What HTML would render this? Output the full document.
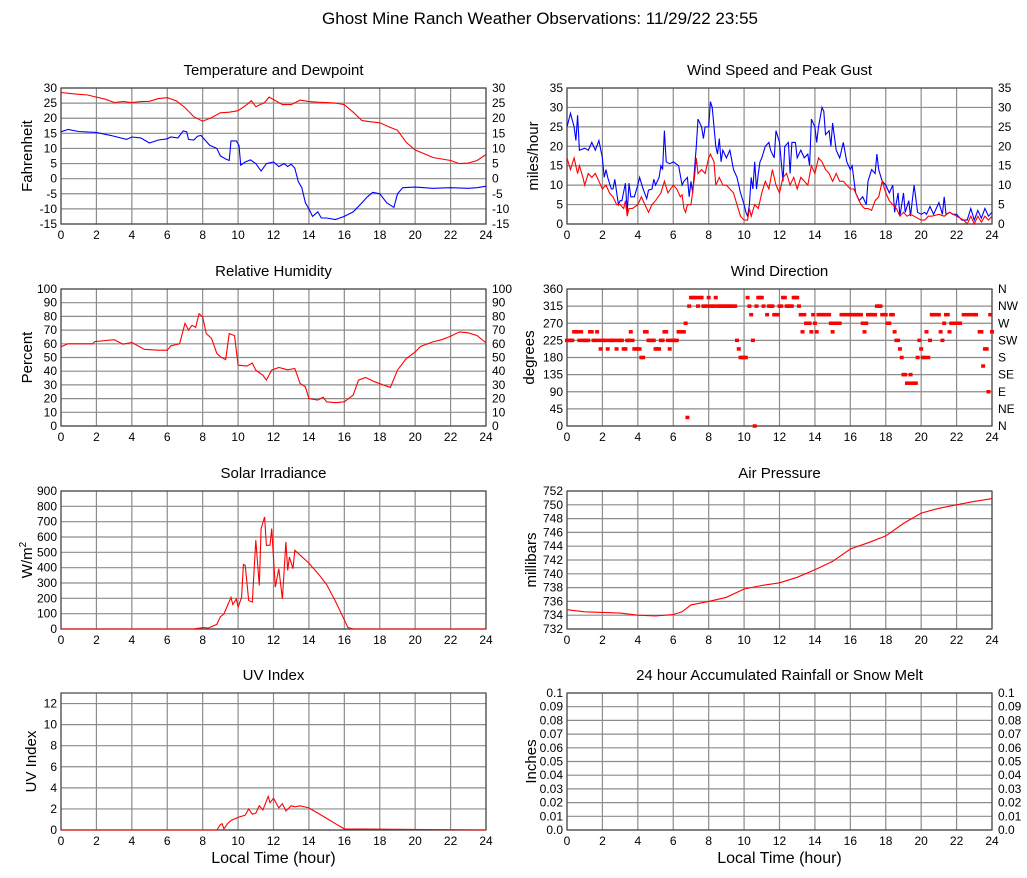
<!DOCTYPE html>
<html><head><meta charset="utf-8"><style>
body{margin:0;background:#fff;}
svg{display:block;font-family:"Liberation Sans",sans-serif;}
</style></head><body>
<svg id="c" width="1027" height="878" xmlns="http://www.w3.org/2000/svg">
<text x="540" y="24" font-size="17" text-anchor="middle">Ghost Mine Ranch Weather Observations: 11/29/22 23:55</text>
</svg>
<script>
const tempT=[0,0.5,1,1.5,2,2.5,3,3.5,4,4.5,5,5.5,6,6.5,7,7.5,8,8.5,9,9.5,10,10.5,10.75,11,11.5,11.75,12,12.5,13,13.5,14,14.5,15,15.5,16,16.5,17,17.5,18,18.5,19,19.5,20,20.5,21,21.5,22,22.5,23,23.5,24];
const tempV=[28.5,28.2,27.9,27.7,27,26.3,25.2,25.5,25.2,25.5,25.6,26.5,26.8,25.8,23.5,20.5,19,20.2,21.8,22,22.5,24.5,25.8,23.8,25.2,27,26.2,24.5,24.5,26,25.5,25.3,25.2,25,24.5,22,19.2,18.8,18.5,17.2,16,12,9.5,8.3,7,6.5,6,5,5.2,6,8];
const dewT=[0,0.4,1,2,2.8,3.7,4,4.5,5,5.5,6,6.2,6.6,6.9,7.1,7.2,7.5,7.7,7.9,8.1,8.4,8.8,9,9.3,9.5,9.6,9.9,10.05,10.15,10.4,10.7,11,11.3,11.6,12,12.3,12.6,12.8,13,13.2,13.4,13.6,13.8,14,14.2,14.5,14.7,15,15.5,16,16.5,17,17.3,17.6,18,18.4,18.8,19,19.3,20,21,22,23,23.5,24];
const dewV=[15.5,16.3,15.6,15.3,14.3,13,13.8,13.5,11.8,12.8,13.2,13.8,13.5,15.8,15.5,13,12.8,14,14.3,13,11,10,7.5,6.5,6,12.5,12.5,11,4.5,5.5,6.2,5,2.5,5,5.5,4,5,4,4.8,3.5,-1,-3,-8,-10,-12.5,-11,-13,-13,-13.5,-12.5,-11,-8,-6,-4.5,-5,-8,-9.5,-5,-3,-2.8,-3.2,-3,-3.2,-3,-2.5];
const rhT=[0,0.4,1.8,1.9,3,3.5,4,4.7,5.5,6,6.2,6.7,7,7.2,7.4,7.6,7.8,8,8.2,8.5,8.8,9,9.3,9.5,9.8,10,10.5,10.8,11,11.4,11.6,11.9,12.3,12.8,13.2,13.5,13.8,14,14.5,14.8,15,15.5,16,16.5,16.8,17.2,17.7,18.2,18.6,19,19.5,20,20.3,21,21.5,22,22.5,23,23.5,24];
const rhV=[57.8,60,60,61.6,63,59.7,61,56,55.3,55.3,58.5,60,75,70,73.5,72,82,79.6,67.5,64,53,50.5,48.5,67.5,66,44.4,43.7,46,40.8,37,33.5,40.8,42.7,41,42,31,28.6,20,19,21,17.7,17,17.7,22.6,33.5,35.4,32.3,29.9,28.2,40.8,49.3,54,58,61.4,63,65.5,68.7,68,66,60.7];
const gustT=[0,0.2,0.4,0.5,0.6,0.7,1,1.2,1.4,1.6,1.8,2,2.1,2.2,2.3,2.5,2.6,2.7,2.9,3,3.1,3.3,3.4,3.5,3.6,3.8,4,4.1,4.3,4.5,4.6,4.8,4.9,5,5.2,5.3,5.4,5.5,5.6,5.8,6,6.3,6.5,6.6,6.8,6.9,7,7.1,7.2,7.3,7.4,7.6,7.7,7.8,8,8.1,8.2,8.4,8.5,8.6,8.7,8.8,9,9.2,9.4,9.6,9.8,10,10.1,10.2,10.3,10.4,10.5,10.6,10.7,10.8,10.9,11,11.2,11.4,11.5,11.7,11.8,12,12.2,12.3,12.5,12.6,12.7,12.9,13,13.2,13.4,13.6,13.7,13.8,14,14.1,14.2,14.4,14.5,14.6,14.8,14.9,15,15.2,15.4,15.6,15.8,16,16.1,16.3,16.5,16.7,16.9,17,17.2,17.4,17.5,17.6,17.8,18,18.2,18.4,18.5,18.7,18.8,19,19.1,19.3,19.4,19.6,19.8,20,20.2,20.3,20.5,20.7,21,21.2,21.3,21.4,21.6,21.8,22,22.3,22.6,22.8,23,23.2,23.4,23.6,23.8,24];
const gustV=[25,28.5,25,21.5,28,19,19.5,19,21,19,21.5,17,12,14,12,9,9,11.5,5,6,6,10.5,3,10.5,7,7,10,12,9,6.5,8.7,9,11.5,10,12,15,14,24,16,15.5,16,15,10,11,12,7,11,8,14,20,27,25,22,25,25,31.5,30,20,18,22,16,19,17,19,14,12,8,5,3,2,5,12,9,16,9,13,16,17,20,21,19,17,24,21,11,20,21,13,21,21,17,19,17,18,15,27,25,21,25,30,29,23,24,20,26,19,17,21,16,14,15,8,6,7,5,11,14,13,18,14,11,10,8,10,3,8,2,8,3,6,2,10,3,2.5,3,2.5,4.5,2.5,5.5,2.5,7,2.5,3,2.5,2.5,1,1,4,1,3.5,1.5,4,2,3];
const spdT=[0,0.2,0.4,0.6,0.7,0.9,1,1.2,1.4,1.6,1.8,2,2.2,2.4,2.6,2.8,3,3.2,3.3,3.4,3.5,3.7,4,4.2,4.4,4.6,4.8,5,5.3,5.5,5.7,6,6.2,6.4,6.5,6.6,6.7,6.8,7,7.2,7.3,7.4,7.6,7.8,8,8.1,8.3,8.4,8.6,8.8,9,9.2,9.4,9.6,9.8,10,10.2,10.3,10.4,10.6,10.8,11,11.2,11.4,11.6,11.8,12,12.2,12.4,12.6,12.8,13,13.2,13.4,13.6,13.8,14,14.2,14.4,14.6,14.8,15,15.2,15.4,15.6,16,16.2,16.4,16.6,16.8,17,17.2,17.4,17.6,17.8,18,18.2,18.4,18.6,18.8,19,19.2,19.4,19.6,19.8,20,20.2,20.4,20.6,21,21.3,21.6,22,22.4,22.6,22.8,23,23.2,23.4,23.6,23.8,24];
const spdV=[17,14,17,13,15,12,10,13,12,13,11,9,10,8,7,5,5,4,6,2,4,4,5,7,5,3,5,6,8,11,8,10,9,7,7.5,4,3,5,5,12,17,13,14,13,17,18,16,10,12,10,10,9,8,5,2,1,1,4,2,5,4,8,11,9,14,10,8,12,13,10,12,9,12,11,10,15,13,17,16,14,13,11,13,11,11,9,9,7,5,4,4,3.5,6,7,11,8,6,5,4,2,3,2,2.5,2,1.5,1,1,2,2,2.5,2,3,2,1,0,2,0,2,0.5,2,1,2];
const dirT=[0,0.1,0.2,0.3,0.4,0.5,0.6,0.7,0.8,0.9,1,1.1,1.2,1.3,1.4,1.5,1.6,1.7,1.8,1.9,2,2.1,2.2,2.3,2.4,2.5,2.6,2.7,2.8,2.9,3,3.1,3.2,3.3,3.4,3.5,3.6,3.7,3.8,3.9,4,4.1,4.2,4.3,4.4,4.5,4.6,4.7,4.8,4.9,5,5.1,5.2,5.3,5.4,5.5,5.6,5.7,5.8,5.9,6,6.1,6.2,6.3,6.4,6.5,6.6,6.7,6.8,6.9,7,7.1,7.2,7.3,7.4,7.5,7.6,7.7,7.8,7.9,8,8.1,8.2,8.3,8.4,8.5,8.6,8.7,8.8,8.9,9,9.1,9.2,9.3,9.4,9.5,9.6,9.7,9.8,9.9,10,10.1,10.2,10.3,10.4,10.5,10.6,10.7,10.8,10.9,11,11.1,11.3,11.4,11.5,11.6,11.7,11.8,11.9,12,12.1,12.2,12.3,12.4,12.5,12.6,12.7,12.8,12.9,13,13.1,13.2,13.3,13.4,13.5,13.6,13.7,13.8,13.9,14,14.1,14.2,14.3,14.4,14.5,14.6,14.7,14.8,14.9,15,15.1,15.2,15.3,15.4,15.5,15.6,15.7,15.8,15.9,16,16.1,16.2,16.3,16.4,16.5,16.6,16.7,16.8,16.9,17,17.1,17.2,17.3,17.4,17.5,17.6,17.7,17.8,17.9,18,18.1,18.2,18.3,18.4,18.5,18.6,18.7,18.8,18.9,19,19.1,19.2,19.3,19.4,19.5,19.6,19.7,19.8,19.9,20,20.1,20.2,20.3,20.4,20.5,20.6,20.7,20.8,20.9,21,21.1,21.2,21.3,21.4,21.5,21.6,21.7,21.8,21.9,22,22.2,22.4,22.6,22.8,23,23.1,23.3,23.4,23.5,23.6,23.7,23.8,23.9,24];
const dirV=[225,225,225,225,247.5,247.5,247.5,225,247.5,225,225,225,225,247.5,247.5,225,225,247.5,225,202.5,225,225,225,202.5,225,225,225,225,202.5,225,225,225,202.5,202.5,225,225,247.5,225,202.5,202.5,202.5,202.5,180,180,247.5,247.5,225,225,225,225,202.5,202.5,202.5,225,225,247.5,247.5,225,202.5,225,225,225,225,247.5,247.5,247.5,247.5,270,22.5,315,337.5,337.5,337.5,337.5,315,337.5,337.5,315,315,315,337.5,315,315,315,337.5,315,315,315,315,315,315,315,315,315,315,315,225,202.5,180,180,180,180,337.5,315,292.5,225,0,315,337.5,337.5,337.5,315,292.5,315,315,315,292.5,292.5,292.5,315,315,337.5,337.5,315,315,315,315,337.5,337.5,337.5,315,292.5,247.5,292.5,270,270,270,247.5,292.5,270,247.5,292.5,292.5,292.5,292.5,292.5,292.5,292.5,270,247.5,270,270,270,270,292.5,292.5,292.5,292.5,292.5,292.5,292.5,292.5,292.5,292.5,292.5,292.5,270,247.5,270,292.5,292.5,292.5,292.5,292.5,315,315,315,292.5,292.5,292.5,270,270,292.5,292.5,247.5,225,225,202.5,180,135,135,112.5,112.5,135,112.5,112.5,112.5,180,225,202.5,180,180,247.5,180,225,292.5,292.5,292.5,292.5,292.5,247.5,225,270,292.5,292.5,247.5,270,270,270,270,270,292.5,292.5,292.5,292.5,292.5,247.5,247.5,157.5,202.5,202.5,90,292.5,247.5,270,270];
const solT=[0,7.5,7.8,8.1,8.3,8.6,8.8,9,9.2,9.4,9.6,9.7,9.9,10,10.2,10.3,10.4,10.6,10.8,11,11.2,11.3,11.5,11.6,11.8,11.9,12.1,12.3,12.5,12.7,12.8,12.9,13.1,13.2,14,14.6,15,15.5,16,16.2,16.5,24];
const solV=[0,0,5,10,5,20,30,80,98,153,207,160,196,142,207,421,415,186,175,579,284,655,731,546,546,655,273,393,196,568,382,469,393,513,430,350,290,180,60,10,0,0];
const presT=[0,1,2,3,4,5,6,6.5,7,8,9,10,11,12,13,14,15,16,17,18,19,20,21,22,23,24];
const presV=[734.8,734.5,734.4,734.3,734,733.9,734.1,734.5,735.5,736,736.6,737.8,738.3,738.7,739.5,740.6,741.8,743.6,744.5,745.5,747.3,748.8,749.5,750,750.5,750.9];
const uvT=[0,8.8,9,9.1,9.2,9.4,9.6,10,10.4,10.6,10.8,11,11.2,11.4,11.7,11.8,12,12.3,12.5,12.7,13,13.2,13.5,14,14.5,15,15.5,16,24];
const uvV=[0,0,0.5,0.6,0.1,0.6,0.9,1.2,1.4,2,1.5,1.6,2.3,1.9,3.2,2.6,3,2.1,2.5,1.8,2.3,2.2,2.3,2.1,1.6,1.1,0.6,0.1,0];
const hourTicks=[0,2,4,6,8,10,12,14,16,18,20,22,24];
const tempTicks=[-15,-10,-5,0,5,10,15,20,25,30];
const windTicks=[0,5,10,15,20,25,30,35];
const rhTicks=[0,10,20,30,40,50,60,70,80,90,100];
const dirTicks=[0,45,90,135,180,225,270,315,360];
const dirLabels=['N','NE','E','SE','S','SW','W','NW','N'];
const solTicks=[0,100,200,300,400,500,600,700,800,900];
const presTicks=[732,734,736,738,740,742,744,746,748,750,752];
const uvTicks=[0,2,4,6,8,10,12];
const rainTicks=[0,0.01,0.02,0.03,0.04,0.05,0.06,0.07,0.08,0.09,0.1];
const rainLabels=['0.0','0.01','0.02','0.03','0.04','0.05','0.06','0.07','0.08','0.09','0.1'];

const NS='http://www.w3.org/2000/svg';
const svg=document.getElementById('c');
function mk(tag,attrs,parent,txt){const e=document.createElementNS(NS,tag);for(const k in attrs)e.setAttribute(k,attrs[k]);if(txt!==undefined)e.textContent=txt;(parent||svg).appendChild(e);return e;}

function panel(o){
  const g=mk('g',{});
  
  
  const xs=h=>o.x+h/24*o.w;
  const ys=v=>o.y+o.h-(v-o.ymin)/(o.ymax-o.ymin)*o.h;
  o.xs=xs;o.ys=ys;
  const t=mk('text',{x:o.x+o.w/2,y:o.y-13,'font-size':15,'text-anchor':'middle'},g,o.title);
  
  
  hourTicks.forEach(h=>{
    const l=mk('line',{x1:xs(h),x2:xs(h),y1:o.y,y2:o.y+o.h,stroke:'#8c8c8c','stroke-width':1.2},g);
    
    
    const tl=mk('text',{x:xs(h),y:o.y+o.h+15,'font-size':12,'text-anchor':'middle'},g,String(h));
    
    
  });
  o.ticks.forEach((v,i)=>{
    const l=mk('line',{x1:o.x,x2:o.x+o.w,y1:ys(v),y2:ys(v),stroke:'#8c8c8c','stroke-width':1.2},g);
    
    
    const lab=o.labels?o.labels[i]:String(v);
    const tl=mk('text',{x:o.x-4,y:ys(v)+4,'font-size':12,'text-anchor':'end'},g,lab);
    
    
    if(o.right){
      const rl=mk('text',{x:o.x+o.w+6,y:ys(v)+4,'font-size':12,'text-anchor':'start'},g,o.right[i]);
      
      
    }
  });
  const b=mk('rect',{x:o.x,y:o.y,width:o.w,height:o.h,fill:'none',stroke:'#444','stroke-width':1.2},g);
  
  
  const yt=mk('text',{x:o.yx,y:o.y+o.h/2,'font-size':15,'text-anchor':'middle',transform:'rotate(-90 '+o.yx+' '+(o.y+o.h/2)+')'},g);
  
  
  if(o.ytitleSup){yt.textContent=o.ytitle;mk('tspan',{dy:-6,'font-size':10},yt,o.ytitleSup);}
  else yt.textContent=o.ytitle;
  if(o.xtitle){
    const xt=mk('text',{x:o.x+o.w/2,y:o.y+o.h+33,'font-size':16,'text-anchor':'middle'},g,'Local Time (hour)');
    
    
  }
  o.g=g;
  return o;
}
function line(o,T,V,color,name){
  const d=T.map((t,i)=>(i?'L':'M')+o.xs(t).toFixed(1)+','+o.ys(V[i]).toFixed(1)).join('');
  const p=mk('path',{d:d,fill:'none',stroke:color,'stroke-width':1.1},o.g);
  
  
}
const L=61,R=567,W=425;
const p1=panel({name:'temperature-panel',title:'Temperature and Dewpoint',x:L,y:88,w:W,h:136,ymin:-15,ymax:30,ticks:tempTicks,right:tempTicks.map(String),ytitle:'Fahrenheit',yx:32});
line(p1,tempT,tempV,'#f00','temperature-line');
line(p1,dewT,dewV,'#00f','dewpoint-line');
const p2=panel({name:'wind-speed-panel',title:'Wind Speed and Peak Gust',x:R,y:88,w:W,h:136,ymin:0,ymax:35,ticks:windTicks,right:windTicks.map(String),ytitle:'miles/hour',yx:538});
line(p2,gustT,gustV,'#00f','peak-gust-line');
line(p2,spdT,spdV,'#f00','wind-speed-line');
const p3=panel({name:'humidity-panel',title:'Relative Humidity',x:L,y:289,w:W,h:137,ymin:0,ymax:100,ticks:rhTicks,right:rhTicks.map(String),ytitle:'Percent',yx:32});
line(p3,rhT,rhV,'#f00','humidity-line');
const p4=panel({name:'wind-direction-panel',title:'Wind Direction',x:R,y:289,w:W,h:137,ymin:0,ymax:360,ticks:dirTicks,right:dirLabels,ytitle:'degrees',yx:534});
dirT.forEach((t,i)=>{
  const r=mk('rect',{x:p4.xs(t)-2,y:p4.ys(dirV[i])-1.75,width:4,height:3.5,fill:'#f00'},p4.g);
  
  
});
const p5=panel({name:'solar-panel',title:'Solar Irradiance',x:L,y:491,w:W,h:138,ymin:0,ymax:900,ticks:solTicks,ytitle:'W/m',ytitleSup:'2',yx:32});
line(p5,solT,solV,'#f00','solar-line');
const p6=panel({name:'pressure-panel',title:'Air Pressure',x:R,y:491,w:W,h:138,ymin:732,ymax:752,ticks:presTicks,ytitle:'millibars',yx:536});
line(p6,presT,presV,'#f00','pressure-line');
const p7=panel({name:'uv-panel',title:'UV Index',x:L,y:693,w:W,h:137,ymin:0,ymax:13,ticks:uvTicks,ytitle:'UV Index',yx:36,xtitle:true});
line(p7,uvT,uvV,'#f00','uv-line');
const p8=panel({name:'rain-panel',title:'24 hour Accumulated Rainfall or Snow Melt',x:R,y:693,w:W,h:137,ymin:0,ymax:0.1,ticks:rainTicks,labels:rainLabels,right:rainLabels,ytitle:'Inches',yx:536,xtitle:true});
</script>
</body></html>
